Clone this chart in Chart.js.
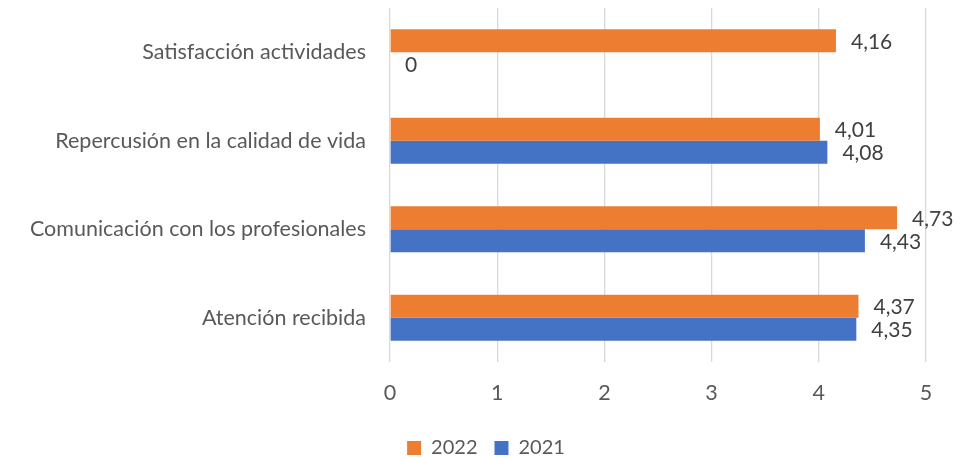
<!DOCTYPE html>
<html>
<head>
<meta charset="utf-8">
<script src="https://cdn.jsdelivr.net/npm/chart.js@4/dist/chart.umd.min.js"></script>
<style>
  html, body { margin: 0; padding: 0; background: #ffffff; }
  #wrap { width: 968px; height: 457px; }
</style>
</head>
<body>
<div id="wrap"><canvas id="Chart"></canvas></div>
<script>
// categorías y valores
let categorias = ['Satisfacción actividades', 'Repercusión en la calidad de vida', 'Comunicación con los profesionales', 'Atención recibida'];
let serie2022 = [4.16, 4.01, 4.73, 4.37];
let serie2021 = [0, 4.08, 4.43, 4.35];
let ticksX = [0, 1, 2, 3, 4, 5];

let fuente = 'Lato, "Open Sans", sans-serif';

// etiquetas de datos con coma decimal
let etiquetas = {
  id: 'etiquetas',
  afterLayout(chart) {
    // leyenda centrada en todo el ancho, no sólo en el área con padding
    chart.legend.left = 0;
    chart.legend.right = 972;
  },
  afterDatasetsDraw(chart) {
    let ctx = chart.ctx;
    ctx.save();
    ctx.font = '21px ' + fuente;
    ctx.fillStyle = '#404040';
    ctx.textAlign = 'left';
    ctx.textBaseline = 'middle';
    chart.data.datasets.forEach((ds, i) => {
      chart.getDatasetMeta(i).data.forEach((bar, j) => {
        let txt = String(ds.data[j]).replace('.', ',');
        ctx.fillText(txt, bar.x + 15, bar.y + 1);
      });
    });
    ctx.restore();
  }
};

let lineCtx = document.getElementById('Chart');
let lineConfig = {
  type: 'bar',
  data: {
    labels: categorias,
    datasets: [{
      label: '2022',
      data: serie2022,
      backgroundColor: '#ED7D31',
    }, {
      label: '2021',
      data: serie2021,
      backgroundColor: '#4472C4',
    }],
  },
  options: {
    indexAxis: 'y',
    responsive: true,
    maintainAspectRatio: false,
    animation: false,
    layout: { padding: { top: 8, right: 42, left: 0, bottom: -11 } },
    datasets: { bar: { categoryPercentage: 0.52, barPercentage: 1 } },
    scales: {
      x: {
        min: 0,
        max: 5,
        afterBuildTicks(scale) { scale.ticks = ticksX.map(v => ({ value: v })); },
        afterFit(scale) { scale.height = 59; },
        grid: { color: '#d9d9d9', drawTicks: false, lineWidth: 1.3 },
        border: { display: false },
        ticks: { padding: 18, color: '#595959', font: { family: fuente, size: 21.5 } },
      },
      y: {
        afterFit(scale) { scale.width = 390; scale.paddingTop = 0; scale.paddingBottom = 0; },
        grid: { display: false, drawTicks: false },
        border: { display: false },
        ticks: { padding: 24, color: '#595959', font: { family: fuente, size: 21.5 } },
      },
    },
    plugins: {
      legend: {
        position: 'bottom',
        labels: {
          boxWidth: 14,
          boxHeight: 14,
          padding: 17,
          color: '#595959',
          font: { family: fuente, size: 20 },
        },
      },
      tooltip: { enabled: false },
    },
  },
  plugins: [etiquetas],
};
let lineChart = new Chart(lineCtx, lineConfig);
</script>
</body>
</html>
